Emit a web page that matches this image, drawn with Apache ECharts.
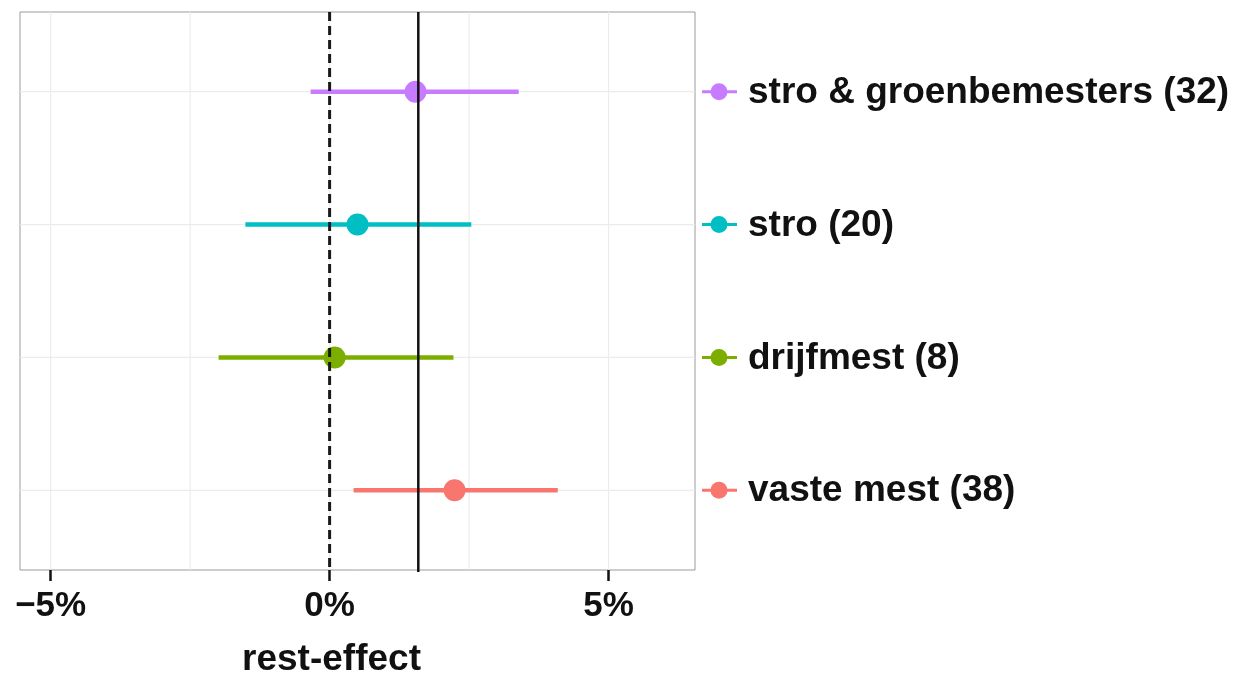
<!DOCTYPE html>
<html>
<head>
<meta charset="utf-8">
<script src="https://cdn.jsdelivr.net/npm/echarts@6/dist/echarts.min.js"></script>
<style>
  html, body { margin: 0; padding: 0; background: #ffffff; }
  #chart { width: 1237px; height: 682px; }
</style>
</head>
<body>
<div id="chart"></div>
<script>
// Groups from top to bottom, with number of observations
const groups = ['stro & groenbemesters (32)', 'stro (20)', 'drijfmest (8)', 'vaste mest (38)'];
// Estimated rest-effect (%) and its interval
const estimate = [1.54, 0.50, 0.09, 2.24];
const lower = [-0.34, -1.51, -1.99, 0.43];
const upper = [3.39, 2.54, 2.22, 4.09];
const colors = ['#C77CFF', '#00BFC4', '#7CAE00', '#F8766D'];
// Overall mean effect (solid line) and the zero reference (dashed line)
const overallEffect = 1.59;
const zeroLine = 0;
// Axis ticks and grid positions
const xTickValues = [-5, 0, 5];
const xGridValues = [-5, -2.5, 0, 2.5, 5];
const xRange = [-5.55, 6.55];

const FONT = '"Liberation Sans", Arial, Helvetica, sans-serif';

const rowData = groups.map((g, i) => [i + 1, lower[i], estimate[i], upper[i], i]);

const chart = echarts.init(document.getElementById('chart'), null, { renderer: 'canvas' });

chart.setOption({
  animation: false,
  backgroundColor: '#ffffff',
  grid: {
    left: 20, right: 542, top: 12, bottom: 112,
    containLabel: false, outerBoundsMode: 'none',
    show: true, borderColor: '#9a9a9a', borderWidth: 1, backgroundColor: '#ffffff'
  },
  xAxis: {
    type: 'value',
    min: xRange[0], max: xRange[1],
    axisLine: { show: false },
    splitLine: { show: false },
    axisTick: {
      show: true, customValues: xTickValues, length: 11,
      lineStyle: { color: '#111111', width: 2.5 }
    },
    axisLabel: {
      customValues: xTickValues, margin: 19,
      fontFamily: FONT, fontWeight: 'bold', fontSize: 35, color: '#111111',
      formatter: v => (v < 0 ? '\u2212' : '') + Math.abs(v) + '%'
    },
    name: 'rest-effect',
    nameLocation: 'middle',
    nameGap: 71,
    nameTextStyle: {
      fontFamily: FONT, fontWeight: 'bold', fontSize: 37, color: '#111111',
      padding: [0, 52, 0, 0]
    }
  },
  yAxis: {
    type: 'value', min: 0.4, max: 4.6, inverse: true,
    axisLine: { show: false }, axisTick: { show: false },
    axisLabel: { show: false }, splitLine: { show: false }
  },
  series: [
    {
      // vertical grid lines
      type: 'custom', z: 1, silent: true,
      data: xGridValues.map(v => [v]),
      encode: { x: 0 },
      renderItem: (params, api) => {
        const cs = params.coordSys;
        const x = api.coord([api.value(0), 1])[0];
        return {
          type: 'line',
          shape: { x1: x, y1: cs.y, x2: x, y2: cs.y + cs.height },
          style: { stroke: '#ececec', lineWidth: 1.2 }
        };
      }
    },
    {
      // horizontal grid lines at each group
      type: 'custom', z: 1, silent: true,
      data: rowData,
      encode: { y: 0 },
      renderItem: (params, api) => {
        const cs = params.coordSys;
        const y = api.coord([0, api.value(0)])[1];
        return {
          type: 'line',
          shape: { x1: cs.x, y1: y, x2: cs.x + cs.width, y2: y },
          style: { stroke: '#ececec', lineWidth: 1.2 }
        };
      }
    },
    {
      // intervals, estimates and the keyed labels on the right
      type: 'custom', z: 2, clip: false, silent: true,
      data: rowData,
      encode: { x: [1, 2, 3], y: 0 },
      renderItem: (params, api) => {
        const cs = params.coordSys;
        const row = api.value(0);
        const color = colors[api.value(4)];
        const pLo = api.coord([api.value(1), row]);
        const pEst = api.coord([api.value(2), row]);
        const pHi = api.coord([api.value(3), row]);
        const keyX = cs.x + cs.width;
        const y = pEst[1];
        return {
          type: 'group',
          children: [
            { type: 'line', shape: { x1: pLo[0], y1: y, x2: pHi[0], y2: y },
              style: { stroke: color, lineWidth: 4.5 } },
            { type: 'circle', shape: { cx: pEst[0], cy: y, r: 11 },
              style: { fill: color } },
            { type: 'line', shape: { x1: keyX + 7, y1: y, x2: keyX + 42, y2: y },
              style: { stroke: color, lineWidth: 3 } },
            { type: 'circle', shape: { cx: keyX + 24, cy: y, r: 8.5 },
              style: { fill: color } },
            { type: 'text',
              style: {
                x: keyX + 53, y: y + 1,
                text: groups[api.value(4)],
                fill: '#111111', font: 'bold 37px ' + FONT,
                textAlign: 'left', textVerticalAlign: 'middle'
              } }
          ]
        };
      }
    },
    {
      // reference lines: zero (dashed) and overall effect (solid)
      type: 'custom', z: 3, silent: true,
      data: [[zeroLine, 0], [overallEffect, 1]],
      encode: { x: 0 },
      renderItem: (params, api) => {
        const cs = params.coordSys;
        const x = api.coord([api.value(0), 1])[0];
        const dashed = api.value(1) === 0;
        return {
          type: 'line',
          shape: { x1: x, y1: cs.y, x2: x, y2: cs.y + cs.height + (dashed ? 0 : 2) },
          style: dashed
            ? { stroke: '#1a1a1a', lineWidth: 3, lineDash: [9, 5] }
            : { stroke: '#111111', lineWidth: 2.5 }
        };
      }
    }
  ]
});
</script>
</body>
</html>
